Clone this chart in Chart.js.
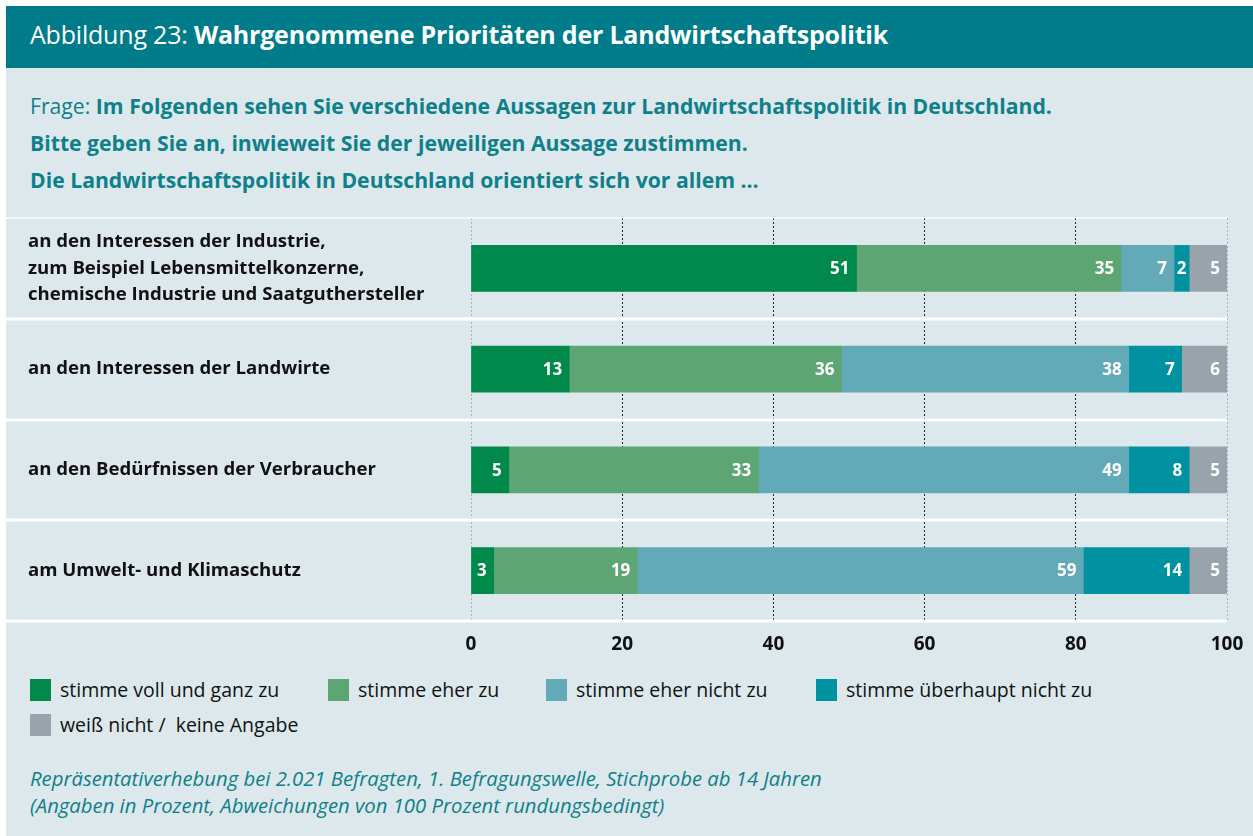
<!DOCTYPE html>
<html lang="de">
<head>
<meta charset="utf-8">
<script src="https://cdn.jsdelivr.net/npm/chart.js@4.4.1/dist/chart.umd.min.js"></script>
<style>
  html, body { margin: 0; padding: 0; background: #fff; }
  body { width: 1253px; height: 836px; position: relative; overflow: hidden; font-family: "Open Sans", "Noto Sans", sans-serif; }
  .panel { position: absolute; left: 6px; top: 6px; right: 0; bottom: 0; background: #dce8ec; }
  .header { position: absolute; left: 6px; top: 6px; right: 0; height: 62px; background: #007b8a; color: #fff; }
  .header h1 { margin: 0; position: absolute; left: 24px; top: 11px; font-size: 25px; font-weight: 400; letter-spacing: -0.2px; white-space: nowrap; }
  .header h1 b { font-weight: 700; }
  .question { position: absolute; left: 30px; top: 87px; color: #0f7f8a; font-size: 21.2px; line-height: 37px; font-weight: 700; letter-spacing: 0; white-space: nowrap; }
  .question span { font-weight: 400; }
  #wrap { position: absolute; left: 0; top: 210px; width: 1253px; height: 452px; }
  .legend { position: absolute; left: 30px; top: 677px; font-size: 19.5px; color: #111; white-space: nowrap; }
  .item { position: absolute; white-space: nowrap; height: 26px; line-height: 26px; }
  .item i { position: absolute; left: 0; top: 2px; width: 21px; height: 22px; }
  .item span { position: absolute; left: 30px; top: 0; }
  .note { position: absolute; left: 30px; top: 765px; color: #0f7f8a; font-style: italic; font-size: 20.3px; line-height: 27px; white-space: nowrap; }
</style>
</head>
<body>
<div class="panel"></div>
<div class="header"><h1>Abbildung 23: <b>Wahrgenommene Prioritäten der Landwirtschaftspolitik</b></h1></div>
<div class="question">
  <span>Frage:</span> Im Folgenden sehen Sie verschiedene Aussagen zur Landwirtschaftspolitik in Deutschland.<br>
  Bitte geben Sie an, inwieweit Sie der jeweiligen Aussage zustimmen.<br>
  Die Landwirtschaftspolitik in Deutschland orientiert sich vor allem …
</div>
<div id="wrap"><canvas id="chart"></canvas></div>
<div class="legend" id="legend"></div>
<div class="note">
  Repräsentativerhebung bei 2.021 Befragten, 1. Befragungswelle, Stichprobe ab 14 Jahren<br>
  (Angaben in Prozent, Abweichungen von 100 Prozent rundungsbedingt)
</div>
<script>
const categories = [
  ['an den Interessen der Industrie,', 'zum Beispiel Lebensmittelkonzerne,', 'chemische Industrie und Saatguthersteller'],
  'an den Interessen der Landwirte',
  'an den Bedürfnissen der Verbraucher',
  'am Umwelt- und Klimaschutz'
];
const seriesNames = ['stimme voll und ganz zu', 'stimme eher zu', 'stimme eher nicht zu', 'stimme überhaupt nicht zu', 'weiß nicht /  keine Angabe'];
const vollUndGanz = [51, 13, 5, 3];
const eherZu = [35, 36, 33, 19];
const eherNicht = [7, 38, 49, 59];
const ueberhauptNicht = [2, 7, 8, 14];
const weissNicht = [5, 6, 5, 5];
const xTicks = [0, 20, 40, 60, 80, 100];
const colors = ['#00894b', '#5ea574', '#62aab8', '#0092a0', '#98a3ab'];

const seriesValues = [vollUndGanz, eherZu, eherNicht, ueberhauptNicht, weissNicht];

// legend in HTML
const legendPos = [[0, 0], [298, 0], [516, 0], [786, 0], [0, 35]];
document.getElementById('legend').innerHTML = seriesNames.map((n, i) =>
  `<div class="item" style="left:${legendPos[i][0]}px;top:${legendPos[i][1]}px"><i style="background:${colors[i]}"></i><span>${n.replace(/ {2}/, ' &nbsp;')}</span></div>`
).join('');

// white separators between the rows, from the left edge of the panel
const rowLines = {
  id: 'rowLines',
  beforeDatasetsDraw(chart) {
    const { ctx, chartArea, scales: { y } } = chart;
    const half = (y.getPixelForValue(1) - y.getPixelForValue(0)) / 2;
    ctx.save();
    for (let i = 0; i <= categories.length; i++) {
      const py = Math.round(y.getPixelForValue(i) - half);
      ctx.strokeStyle = i === 0 ? 'rgba(255,255,255,0.6)' : '#fff';
      ctx.lineWidth = i === 0 ? 2 : 3;
      ctx.beginPath();
      ctx.moveTo(6, py);
      ctx.lineTo(chartArea.right, py);
      ctx.stroke();
    }
    ctx.restore();
  }
};

// value labels inside the segments
const barLabels = {
  id: 'barLabels',
  afterDatasetsDraw(chart) {
    const { ctx } = chart;
    ctx.save();
    ctx.font = 'bold 17px "Open Sans", sans-serif';
    ctx.fillStyle = '#fff';
    ctx.textBaseline = 'middle';
    chart.data.datasets.forEach((ds, di) => {
      chart.getDatasetMeta(di).data.forEach((bar, i) => {
        const w = bar.x - bar.base;
        if (w < 22) {
          ctx.textAlign = 'center';
          ctx.fillText(ds.data[i], bar.base + w / 2, bar.y + 1);
        } else {
          ctx.textAlign = 'right';
          ctx.fillText(ds.data[i], bar.x - 7, bar.y + 1);
        }
      });
    });
    ctx.restore();
  }
};

const noPad = s => { s.paddingTop = 0; s.paddingBottom = 0; s.paddingLeft = 0; s.paddingRight = 0; };

new Chart(document.getElementById('chart'), {
  type: 'bar',
  data: {
    labels: categories,
    datasets: seriesValues.map((vals, i) => ({
      label: seriesNames[i],
      data: vals,
      backgroundColor: colors[i],
      borderWidth: 0,
      barThickness: 46
    }))
  },
  options: {
    indexAxis: 'y',
    responsive: true,
    maintainAspectRatio: false,
    animation: false,
    layout: { padding: { top: 8, right: 26, left: 28, bottom: 0 } },
    plugins: { legend: { display: false }, tooltip: { enabled: false } },
    scales: {
      x: {
        stacked: true,
        min: 0,
        max: 100,
        afterBuildTicks: s => { s.ticks = xTicks.map(v => ({ value: v })); },
        afterFit: s => { s.height = 41; noPad(s); },
        grid: {
          drawTicks: false,
          color: c => (c.tick && (c.tick.value === 0 || c.tick.value === 100)) ? '#a9b4b8' : '#222',
          lineWidth: 1
        },
        border: { display: false, dash: [2, 2] },
        ticks: {
          padding: 12,
          color: '#111',
          font: { family: '"Open Sans", sans-serif', size: 19, weight: 'bold' }
        }
      },
      y: {
        stacked: true,
        afterFit: s => { s.width = 443; noPad(s); },
        grid: { display: false },
        border: { display: false },
        ticks: {
          crossAlign: 'far',
          padding: 0,
          color: '#111',
          font: { family: '"Open Sans", sans-serif', size: 18.6, weight: 'bold', lineHeight: 1.42 }
        }
      }
    }
  },
  plugins: [rowLines, barLabels]
});
</script>
</body>
</html>
